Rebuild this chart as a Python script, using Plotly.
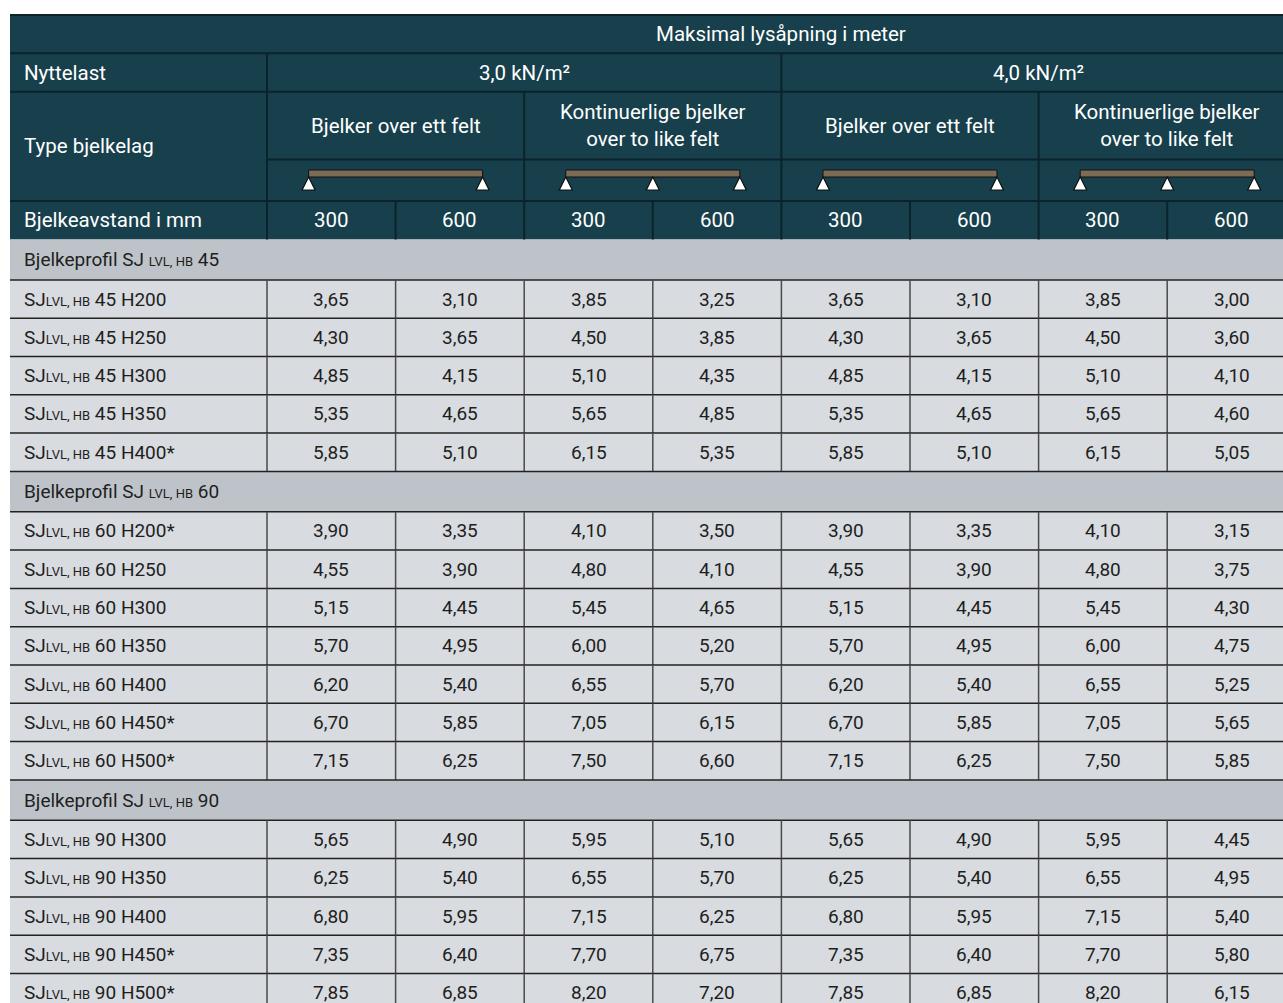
import plotly.graph_objects as go

# ---------------- data ----------------
title_text = "Maksimal lysåpning i meter"
load_labels = ["3,0 kN/m²", "4,0 kN/m²"]
beam_type_labels = ["Bjelker over ett felt", "Kontinuerlige bjelker<br>over to like felt"]
beam_supports = [[0.0, 1.0], [0.0, 0.5, 1.0]]
spacing_labels = ["300", "600"]
row_header_labels = ["Nyttelast", "Type bjelkelag", "Bjelkeavstand i mm"]

profile_widths = ["45", "60", "90"]
profile_heights = [
    ["H200", "H250", "H300", "H350", "H400*"],
    ["H200*", "H250", "H300", "H350", "H400", "H450*", "H500*"],
    ["H300", "H350", "H400", "H450*", "H500*"],
]

q30_single_300 = [3.65, 4.30, 4.85, 5.35, 5.85, 3.90, 4.55, 5.15, 5.70, 6.20, 6.70, 7.15, 5.65, 6.25, 6.80, 7.35, 7.85]
q30_single_600 = [3.10, 3.65, 4.15, 4.65, 5.10, 3.35, 3.90, 4.45, 4.95, 5.40, 5.85, 6.25, 4.90, 5.40, 5.95, 6.40, 6.85]
q30_cont_300 = [3.85, 4.50, 5.10, 5.65, 6.15, 4.10, 4.80, 5.45, 6.00, 6.55, 7.05, 7.50, 5.95, 6.55, 7.15, 7.70, 8.20]
q30_cont_600 = [3.25, 3.85, 4.35, 4.85, 5.35, 3.50, 4.10, 4.65, 5.20, 5.70, 6.15, 6.60, 5.10, 5.70, 6.25, 6.75, 7.20]
q40_single_300 = [3.65, 4.30, 4.85, 5.35, 5.85, 3.90, 4.55, 5.15, 5.70, 6.20, 6.70, 7.15, 5.65, 6.25, 6.80, 7.35, 7.85]
q40_single_600 = [3.10, 3.65, 4.15, 4.65, 5.10, 3.35, 3.90, 4.45, 4.95, 5.40, 5.85, 6.25, 4.90, 5.40, 5.95, 6.40, 6.85]
q40_cont_300 = [3.85, 4.50, 5.10, 5.65, 6.15, 4.10, 4.80, 5.45, 6.00, 6.55, 7.05, 7.50, 5.95, 6.55, 7.15, 7.70, 8.20]
q40_cont_600 = [3.00, 3.60, 4.10, 4.60, 5.05, 3.15, 3.75, 4.30, 4.75, 5.25, 5.65, 5.85, 4.45, 4.95, 5.40, 5.80, 6.15]

value_columns = [q30_single_300, q30_single_600, q30_cont_300, q30_cont_600,
                 q40_single_300, q40_single_600, q40_cont_300, q40_cont_600]

# ---------------- layout / style ----------------
W, H = 1283, 1003
X0 = 10.0
LABEL_W = 257.0
COL_W = 128.6
N_COLS = 8
HDR_Y = [15.0, 53.3, 91.7, 159.5, 201.0, 239.5]
GROUP_H = 40.4
DATA_H = 38.3

HDR_BG = "#173F4C"
HDR_LINE = "#0B232B"
GROUP_BG = "#BEC3C9"
DATA_BG = "#D8DBDF"
HLINE = "#222222"
VLINE = "#4a4a4a"
BEAM = "#7D6B56"
FONT = "Roboto"
HDR_FS = 20.5
BODY_FS = 19
SMALL = "<span style='font-size:13px'>LVL, HB</span>"

col_left = [X0 + LABEL_W + i * COL_W for i in range(N_COLS + 1)]
col_center = [(col_left[i] + col_left[i + 1]) / 2 for i in range(N_COLS)]
X_END = col_left[-1]

shapes = []
annotations = []


def rect(x0, y0, x1, y1, fill):
    shapes.append(dict(type="rect", xref="x", yref="y", x0=x0, y0=y0, x1=x1, y1=y1,
                       fillcolor=fill, line=dict(width=0), layer="below"))


def line(x0, y0, x1, y1, color, width=1.5):
    shapes.append(dict(type="line", xref="x", yref="y", x0=x0, y0=y0, x1=x1, y1=y1,
                       line=dict(color=color, width=width), layer="above"))


def text(x, y, s, size, color, anchor="center"):
    annotations.append(dict(xref="x", yref="y", x=x, y=y, text=s, showarrow=False,
                            xanchor=anchor, yanchor="middle", align="center",
                            font=dict(family=FONT, size=size, color=color)))


# ---------- header ----------
rect(X0, HDR_Y[0], X_END, HDR_Y[5], HDR_BG)
line(X0, HDR_Y[0], X_END, HDR_Y[0], HDR_LINE, 2)
line(X0, HDR_Y[1], X_END, HDR_Y[1], HDR_LINE, 2)
line(X0, HDR_Y[2], X_END, HDR_Y[2], HDR_LINE, 2)
line(col_left[0], HDR_Y[3], X_END, HDR_Y[3], HDR_LINE, 2)
line(X0, HDR_Y[4], X_END, HDR_Y[4], HDR_LINE, 2)
line(col_left[0], HDR_Y[1], col_left[0], HDR_Y[5], HDR_LINE, 2)
line(col_left[4], HDR_Y[1], col_left[4], HDR_Y[5], HDR_LINE, 2)
for i in (2, 6):
    line(col_left[i], HDR_Y[2], col_left[i], HDR_Y[5], HDR_LINE, 2)
for i in (1, 3, 5, 7):
    line(col_left[i], HDR_Y[4], col_left[i], HDR_Y[5], HDR_LINE, 2)

WHITE = "#FFFFFF"
text((col_left[0] + X_END) / 2, (HDR_Y[0] + HDR_Y[1]) / 2, title_text, HDR_FS, WHITE)
text(X0 + 12, (HDR_Y[1] + HDR_Y[2]) / 2, row_header_labels[0], HDR_FS, WHITE, "left")
text(X0 + 12, (HDR_Y[2] + HDR_Y[4]) / 2, row_header_labels[1], HDR_FS, WHITE, "left")
text(X0 + 12, (HDR_Y[4] + HDR_Y[5]) / 2, row_header_labels[2], HDR_FS, WHITE, "left")

for li, lab in enumerate(load_labels):
    text((col_left[li * 4] + col_left[li * 4 + 4]) / 2, (HDR_Y[1] + HDR_Y[2]) / 2, lab, HDR_FS, WHITE)
    for bi, blab in enumerate(beam_type_labels):
        g = li * 4 + bi * 2
        cx = (col_left[g] + col_left[g + 2]) / 2
        text(cx, (HDR_Y[2] + HDR_Y[3]) / 2, blab, HDR_FS, WHITE)
        half = 87
        bx0, bx1 = cx - half, cx + half
        by0, by1 = HDR_Y[3] + 10.5, HDR_Y[3] + 17.5
        shapes.append(dict(type="rect", xref="x", yref="y", x0=bx0, x1=bx1, y0=by0, y1=by1,
                           fillcolor=BEAM, line=dict(color="#111111", width=1), layer="above"))
        for f in beam_supports[bi]:
            sx = bx0 + f * (bx1 - bx0)
            path = f"M {sx},{by1} L {sx - 6.5},{by1 + 13} L {sx + 6.5},{by1 + 13} Z"
            shapes.append(dict(type="path", xref="x", yref="y", path=path,
                               fillcolor="#FFFFFF", line=dict(color="#111111", width=1.2),
                               layer="above"))
    for si, slab in enumerate(spacing_labels * 2):
        c = li * 4 + si
        text(col_center[c], (HDR_Y[4] + HDR_Y[5]) / 2, slab, HDR_FS, WHITE)

# ---------- body ----------
BODY_COLOR = "#1E1E1E"
y = HDR_Y[5]
k = 0
for gi, pw in enumerate(profile_widths):
    rect(X0, y, X_END, y + GROUP_H, GROUP_BG)
    text(X0 + 12, y + GROUP_H / 2, f"Bjelkeprofil SJ {SMALL} {pw}", BODY_FS, BODY_COLOR, "left")
    line(X0, y + GROUP_H, X_END, y + GROUP_H, HLINE)
    y += GROUP_H
    for h in profile_heights[gi]:
        rect(X0, y, X_END, y + DATA_H, DATA_BG)
        text(X0 + 12, y + DATA_H / 2, f"SJ{SMALL} {pw} {h}", BODY_FS, BODY_COLOR, "left")
        for c in range(N_COLS):
            v = value_columns[c][k]
            text(col_center[c], y + DATA_H / 2, f"{v:.2f}".replace(".", ","), BODY_FS, BODY_COLOR)
        for i in range(N_COLS):
            line(col_left[i], y, col_left[i], y + DATA_H, VLINE)
        line(X0, y + DATA_H, X_END, y + DATA_H, HLINE)
        y += DATA_H
        k += 1

fig = go.Figure()
fig.update_layout(
    width=W, height=H,
    margin=dict(l=0, r=0, t=0, b=0),
    paper_bgcolor="white", plot_bgcolor="white",
    xaxis=dict(range=[0, W], visible=False, fixedrange=True),
    yaxis=dict(range=[H, 0], visible=False, fixedrange=True),
    shapes=shapes, annotations=annotations,
    showlegend=False,
)
fig.write_html(
    "out.html",
    config={"displayModeBar": False, "staticPlot": True},
    post_script=(
        "document.documentElement.style.overflow='hidden';"
        "document.body.style.overflow='hidden';"
        "document.body.style.margin='0px';"
    ),
)
